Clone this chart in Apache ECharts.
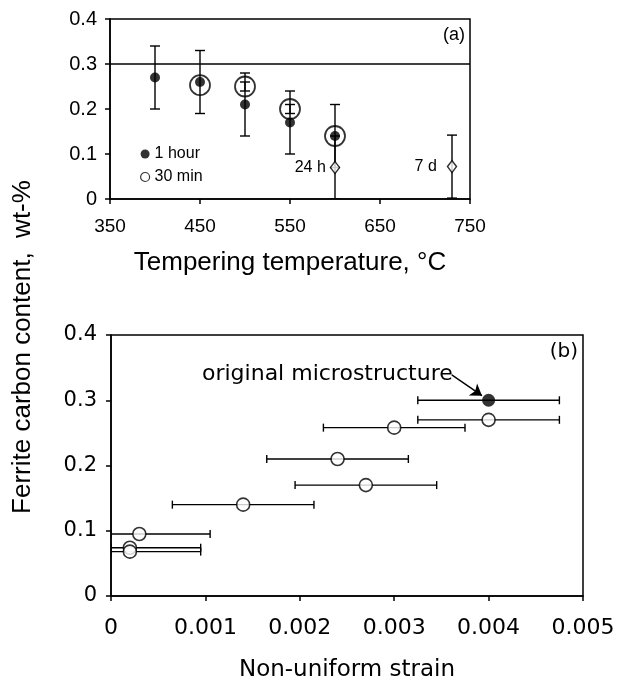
<!DOCTYPE html>
<html lang="en">
<head>
    <meta charset="UTF-8">
    <title>Ferrite carbon content</title>
    <script src="https://cdn.jsdelivr.net/npm/echarts@6/dist/echarts.min.js"></script>
    <style>
        html, body { margin: 0; padding: 0; background: #fff; }
    </style>
</head>
<body>
<div id="main" style="width:618px; height:683px;"></div>
<script type="text/javascript">

    // (a) tempering temperature vs ferrite carbon
    const tempHour = [400, 450, 500, 550, 600];
    const carbonHour = [0.27, 0.26, 0.21, 0.17, 0.14];
    const errHour = [0.07, 0.07, 0.07, 0.07, 0.07];

    const temp30 = [450, 500, 550, 600];
    const carbon30 = [0.253, 0.25, 0.20, 0.14];
    const err30 = [0, 0.01, 0.01, 0];

    const tempLong = [600, 730];
    const carbonLong = [0.07, 0.072];
    const errLong = [0.07, 0.07];
    const longLabels = ['24 h', '7 d'];

    const tempTicks = [350, 750, 100];   // min, max, step
    const carbonTicks = [0, 0.4, 0.1];
    const originalLevel = 0.3;

    // (b) non-uniform strain vs ferrite carbon
    const strainOrig = [0.004];
    const carbonOrig = [0.30];
    const errOrig = [0.00075];

    const strainTemp = [0.004, 0.003, 0.0024, 0.0027, 0.0014, 0.0003, 0.0002, 0.0002];
    const carbonTemp = [0.27, 0.258, 0.21, 0.17, 0.14, 0.095, 0.074, 0.068];
    const errTemp = [0.00075, 0.00075, 0.00075, 0.00075, 0.00075, 0.00075, 0.00075, 0.00075];

    const strainTicks = [0, 0.005, 0.001];

    const fontA = 'Liberation Sans, Arial, sans-serif';
    const fontB = 'DejaVu Sans, Verdana, sans-serif';

    let myChart = echarts.init(document.getElementById('main'));

    // vertical error bar (x, lo, hi)
    function vBar(params, api) {
        const x = api.value(0), lo = api.value(1), hi = api.value(2);
        if (hi === lo) return;
        const a = api.coord([x, hi]), b = api.coord([x, lo]);
        const w = 5;
        const style = { stroke: '#000', lineWidth: 1.4 };
        return {
            type: 'group',
            children: [
                { type: 'line', shape: { x1: a[0], y1: a[1], x2: b[0], y2: b[1] }, style: style },
                { type: 'line', shape: { x1: a[0] - w, y1: a[1], x2: a[0] + w, y2: a[1] }, style: style },
                { type: 'line', shape: { x1: b[0] - w, y1: b[1], x2: b[0] + w, y2: b[1] }, style: style }
            ]
        };
    }

    // horizontal error bar (y, lo, hi)
    function hBar(params, api) {
        const y = api.value(0), lo = api.value(1), hi = api.value(2);
        const a = api.coord([lo, y]), b = api.coord([hi, y]);
        const h = 4;
        const style = { stroke: '#000', lineWidth: 1.4 };
        return {
            type: 'group',
            children: [
                { type: 'line', shape: { x1: a[0], y1: a[1], x2: b[0], y2: b[1] }, style: style },
                { type: 'line', shape: { x1: a[0], y1: a[1] - h, x2: a[0], y2: a[1] + h }, style: style },
                { type: 'line', shape: { x1: b[0], y1: b[1] - h, x2: b[0], y2: b[1] + h }, style: style }
            ]
        };
    }

    function vData(xs, ys, es) {
        return xs.map((x, i) => [x, Math.max(0, ys[i] - es[i]), ys[i] + es[i]]);
    }
    function hData(xs, ys, es) {
        return xs.map((x, i) => [ys[i], Math.max(0, x - es[i]), x + es[i]]);
    }
    function pts(xs, ys) {
        return xs.map((x, i) => [x, ys[i]]);
    }

    const axisLine = { show: true, lineStyle: { color: '#000', width: 1.5 } };
    const axisTick = { show: true, inside: false, length: 5, lineStyle: { color: '#000', width: 1.5 } };

    let option = {
        backgroundColor: '#fff',
        animation: false,
        grid: [
            { left: 110, top: 19, width: 360, height: 180, show: true, borderColor: '#000', borderWidth: 1.5, backgroundColor: 'transparent' },
            { left: 111, top: 335, width: 472, height: 262, show: true, borderColor: '#000', borderWidth: 1.5, backgroundColor: 'transparent' }
        ],
        legend: {
            data: [
                { name: '1 hour' },
                { name: '30 min', itemStyle: { color: '#fff', borderColor: '#000', borderWidth: 1.2 } }
            ],
            orient: 'vertical',
            left: 135,
            top: 141,
            itemWidth: 9,
            itemHeight: 9,
            itemGap: 7,
            icon: 'circle',
            textStyle: { fontFamily: fontA, fontSize: 16, color: '#000' }
        },
        xAxis: [
            {
                gridIndex: 0, type: 'value',
                min: tempTicks[0], max: tempTicks[1], interval: tempTicks[2],
                axisLine: axisLine, axisTick: axisTick, splitLine: { show: false },
                axisLabel: { fontFamily: fontA, fontSize: 19, color: '#000', margin: 18 },
                name: 'Tempering temperature, \u00b0C',
                nameLocation: 'middle', nameGap: 51,
                nameTextStyle: { fontFamily: fontA, fontSize: 26, color: '#000' }
            },
            {
                gridIndex: 1, type: 'value',
                min: strainTicks[0], max: strainTicks[1], interval: strainTicks[2],
                axisLine: axisLine, axisTick: axisTick, splitLine: { show: false },
                axisLabel: { fontFamily: fontB, fontSize: 22, color: '#000', margin: 21 },
                name: 'Non-uniform strain',
                nameLocation: 'middle', nameGap: 63,
                nameTextStyle: { fontFamily: fontB, fontSize: 23, color: '#000' }
            }
        ],
        yAxis: [
            {
                gridIndex: 0, type: 'value',
                min: carbonTicks[0], max: carbonTicks[1], interval: carbonTicks[2],
                axisLine: axisLine, axisTick: axisTick, splitLine: { show: false },
                axisLabel: { fontFamily: fontA, fontSize: 20, color: '#000', margin: 13 }
            },
            {
                gridIndex: 1, type: 'value',
                min: carbonTicks[0], max: carbonTicks[1], interval: carbonTicks[2],
                axisLine: axisLine, axisTick: axisTick, splitLine: { show: false },
                axisLabel: { fontFamily: fontB, fontSize: 21, color: '#000', margin: 14 }
            }
        ],
        graphic: [
            {
                type: 'text', x: 23, y: 347, rotation: Math.PI / 2,
                style: {
                    text: 'Ferrite carbon content,  wt-%',
                    fontFamily: fontA, fontSize: 26, fill: '#000',
                    align: 'center', verticalAlign: 'middle'
                }
            },
            {
                type: 'text', x: 465, y: 35,
                style: { text: '(a)', fontFamily: fontA, fontSize: 18, fill: '#000', align: 'right', verticalAlign: 'middle' }
            },
            {
                type: 'text', x: 578, y: 352,
                style: { text: '(b)', fontFamily: fontB, fontSize: 20, fill: '#000', align: 'right', verticalAlign: 'middle' }
            },
            {
                type: 'text', x: 202, y: 374,
                style: { text: 'original microstructure', fontFamily: fontB, fontSize: 22, fill: '#000', align: 'left', verticalAlign: 'middle' }
            }
        ],
        series: [
            // ---- panel (a)
            {
                name: 'err hour', type: 'custom', xAxisIndex: 0, yAxisIndex: 0,
                renderItem: vBar, encode: { x: 0, y: [1, 2] }, clip: true, z: 2,
                data: vData(tempHour, carbonHour, errHour),
                markLine: {
                    silent: true, symbol: 'none', label: { show: false },
                    lineStyle: { type: 'solid', color: '#000', width: 1.5 },
                    data: [{ yAxis: originalLevel }]
                }
            },
            {
                name: 'err 30', type: 'custom', xAxisIndex: 0, yAxisIndex: 0,
                renderItem: vBar, encode: { x: 0, y: [1, 2] }, clip: true, z: 2,
                data: vData(temp30, carbon30, err30)
            },
            {
                name: 'err long', type: 'custom', xAxisIndex: 0, yAxisIndex: 0,
                renderItem: vBar, encode: { x: 0, y: [1, 2] }, clip: true, z: 2,
                data: vData(tempLong, carbonLong, errLong)
            },
            {
                name: '30 min', type: 'scatter', xAxisIndex: 0, yAxisIndex: 0,
                symbol: 'circle', symbolSize: 20, z: 3,
                itemStyle: { color: 'rgba(255,255,255,0)', borderColor: '#000', borderWidth: 1.8 },
                data: pts(temp30, carbon30)
            },
            {
                name: '1 hour', type: 'scatter', xAxisIndex: 0, yAxisIndex: 0,
                symbol: 'circle', symbolSize: 10, z: 4,
                itemStyle: { color: '#000' },
                data: pts(tempHour, carbonHour)
            },
            {
                name: 'long', type: 'scatter', xAxisIndex: 0, yAxisIndex: 0,
                symbol: 'diamond', symbolSize: [9, 12], z: 4,
                itemStyle: { color: '#fff', borderColor: '#000', borderWidth: 1.5 },
                label: {
                    show: true, position: 'left', distance: 4,
                    fontFamily: fontA, fontSize: 16, color: '#000',
                    textBorderWidth: 0, opacity: 1,
                    formatter: p => longLabels[p.dataIndex]
                },
                emphasis: { disabled: true },
                data: pts(tempLong, carbonLong).map((d, i) => i === 1 ? { value: d, label: { distance: 10 } } : d)
            },
            // ---- panel (b)
            {
                name: 'err strain', type: 'custom', xAxisIndex: 1, yAxisIndex: 1,
                renderItem: hBar, encode: { y: 0, x: [1, 2] }, clip: true, z: 2,
                data: hData(strainOrig.concat(strainTemp), carbonOrig.concat(carbonTemp), errOrig.concat(errTemp))
            },
            {
                name: 'tempered', type: 'scatter', xAxisIndex: 1, yAxisIndex: 1,
                symbol: 'circle', symbolSize: 13, z: 3,
                itemStyle: { color: '#fff', borderColor: '#000', borderWidth: 1.6 },
                data: pts(strainTemp, carbonTemp)
            },
            {
                name: 'original', type: 'scatter', xAxisIndex: 1, yAxisIndex: 1,
                symbol: 'circle', symbolSize: 13, z: 4,
                itemStyle: { color: '#000' },
                data: pts(strainOrig, carbonOrig),
                markLine: {
                    silent: true, symbol: ['none', 'arrow'], symbolSize: 11,
                    label: { show: false },
                    lineStyle: { type: 'solid', color: '#000', width: 1.4 },
                    data: [[{ coord: [0.00361, 0.339] }, { coord: [0.00393, 0.307] }]]
                }
            }
        ]
    };

    myChart.setOption(option);
</script>
</body>
</html>
